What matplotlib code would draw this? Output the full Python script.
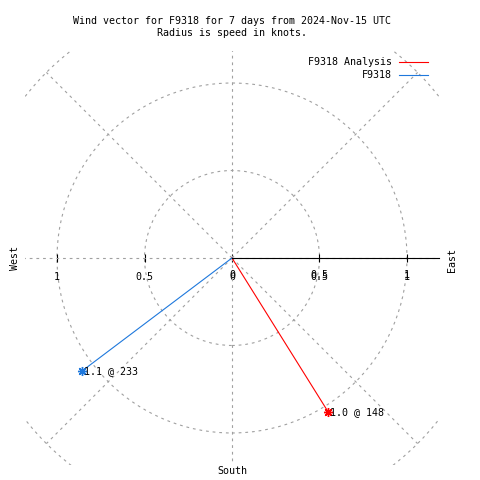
import numpy as np
import matplotlib
matplotlib.use('Agg')
import matplotlib.pyplot as plt
from matplotlib.lines import Line2D
from matplotlib.patches import Circle

title = 'Wind vector for F9318 for 7 days from 2024-Nov-15 UTC\nRadius is speed in knots.'
names = ['F9318 Analysis', 'F9318']
speeds = [1.04, 1.07]          # knots
bearings = [148, 233]          # degrees, clockwise from north
shown_speed = ['1.0', '1.1']
colors = ['#ff0000', '#1e78dc']

grid_r = [0.5, 1.0, 1.5]
spokes = [0, 45, 90, 135, 180, 225, 270, 315]
xticks = [-1, -0.5, 0, 0.5, 1]
xticklabels = ['1', '0.5', '0', '0.5', '1']
rticks = [0, 0.5, 1]
rticklabels = ['0', '0.5', '1']
rmax = 1.183

plt.rcParams['font.family'] = 'DejaVu Sans Mono'
plt.rcParams['font.size'] = 7.2
W = 480.0

fig = plt.figure(figsize=(4.8, 4.8), dpi=100)
ax = fig.add_axes([25 / W, 15 / W, 414 / W, 414 / W])
ax.set_xlim(-rmax, rmax)
ax.set_ylim(-rmax, rmax)

gridkw = dict(color='#a0a0a0', lw=0.8, dashes=(2.5, 3.5))
for r in grid_r:
    c = Circle((0, 0), r, fill=False, ec='#a0a0a0', lw=0.8, ls=(0, (2.5, 3.5)))
    ax.add_patch(c)
for a in spokes:
    t = np.radians(a)
    ax.plot([0, grid_r[-1] * np.sin(t)], [0, grid_r[-1] * np.cos(t)], **gridkw)

# wind vectors
for s, b, lab, col in zip(speeds, bearings, shown_speed, colors):
    t = np.radians(b)
    x, y = s * np.sin(t), s * np.cos(t)
    ax.plot([0, x], [0, y], color=col, lw=0.8)
    ax.plot([x], [y], marker=(8, 2, 0), ms=6.5, mew=1.0, color=col, ls='none')
    ax.annotate(f'{lab} @ {b}', xy=(x, y), xytext=(1, 0), textcoords='offset points',
                ha='left', va='center')

# axis along the horizontal, gnuplot style
for side in ['left', 'right', 'top']:
    ax.spines[side].set_visible(False)
ax.spines['bottom'].set_position(('data', 0))
ax.spines['bottom'].set_bounds(0, rmax)
ax.spines['bottom'].set_linewidth(0.8)
ax.set_yticks([])
ax.set_xticks(xticks, xticklabels)
ax.tick_params(axis='x', direction='inout', length=5.8, width=0.8, pad=7)
ax.patch.set_visible(False)

# r-axis labels printed on top of the x labels (slightly higher)
for r, lab in zip(rticks, rticklabels):
    ax.annotate(lab, xy=(r, 0), xytext=(0, -9), textcoords='offset points',
                ha='center', va='top')

handles = [Line2D([], [], color=c, lw=0.8) for c in colors]
ax.legend(handles, names, loc='upper right', bbox_to_anchor=(428 / W, 1 - 57 / W),
          bbox_transform=fig.transFigure, frameon=False, markerfirst=False,
          handlelength=2.9, handletextpad=0.7, labelspacing=0.35,
          borderpad=0, borderaxespad=0)

fig.text(232 / W, 1 - 27 / W, title, ha='center', va='center', linespacing=1.25)
fig.text(15 / W, 1 - 258 / W, 'West', rotation=90, ha='center', va='center')
fig.text(452 / W, 1 - 260 / W, 'East', rotation=90, ha='center', va='center')
fig.text(232 / W, 1 - 471 / W, 'South', ha='center', va='center')

fig.savefig('out.png', dpi=100)
